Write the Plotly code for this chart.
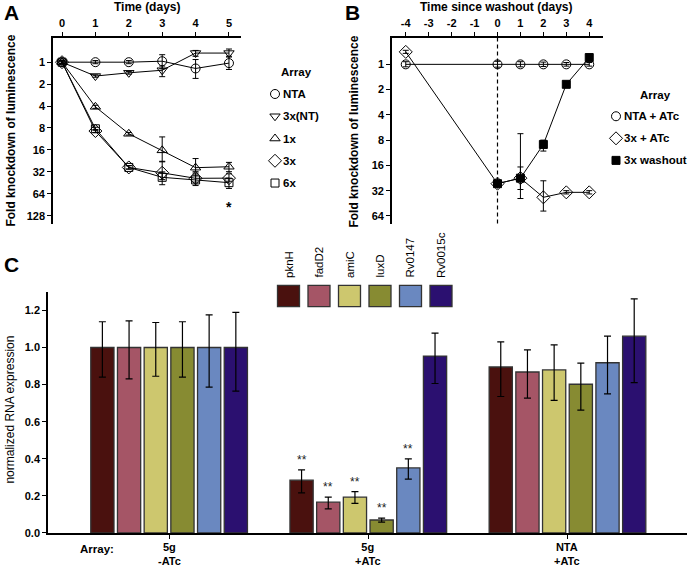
import math
import plotly.graph_objects as go

W, H = 688, 567
def px(x): return x / W
def py(y): return 1 - y / H

FONT = "Arial, 'Liberation Sans', sans-serif"

# ---------------- Panel A data ----------------
days_a = [0, 1, 2, 3, 4, 5]
nta_a = [1.0, 1.0, 1.0, 0.97, 1.22, 1.03]
nta_a_ep = [0.04, 0.05, 0.05, 0.26, 0.45, 0.23]
nta_a_em = [0.04, 0.05, 0.05, 0.18, 0.30, 0.18]
nt3_a = [1.0, 1.55, 1.40, 1.29, 0.75, 0.75]
nt3_a_ep = [0.04, 0.06, 0.06, 0.29, 0.08, 0.08]
nt3_a_em = [0.04, 0.06, 0.06, 0.16, 0.06, 0.09]
x1_a = [1.0, 4.1, 9.6, 16.2, 28.0, 27.2]
x1_a_ep = [0.04, 0.2, 0.4, 7.1, 3.8, 4.6]
x1_a_em = [0.04, 0.2, 0.4, 5.6, 7.0, 3.5]
x3_a = [1.0, 8.8, 27.8, 32.9, 39.2, 39.0]
x3_a_ep = [0.04, 0.4, 1.5, 8.0, 5.0, 4.0]
x3_a_em = [0.04, 0.4, 1.5, 10.0, 6.0, 5.0]
x6_a = [1.0, 8.2, 27.8, 38.0, 41.3, 45.0]
x6_a_ep = [0.04, 0.4, 1.5, 10.0, 8.0, 9.0]
x6_a_em = [0.04, 0.4, 1.5, 6.0, 6.0, 6.0]
ticks_a = [1, 2, 4, 8, 16, 32, 64, 128]
names_a = ["NTA", "3x(NT)", "1x", "3x", "6x"]

# ---------------- Panel B data ----------------
days_b = [-4, 0, 1, 2, 3, 4]
nta_b = [1.0, 1.0, 1.0, 1.0, 1.0, 1.0]
nta_b_e = [0.07, 0.08, 0.07, 0.06, 0.05, 0.05]
x3atc_b = [0.71, 26.4, 22.7, 38.4, 33.5, 33.5]
x3atc_b_ep = [0.03, 1.0, 17.0, 17.6, 1.5, 1.5]
x3atc_b_em = [0.03, 1.0, 6.0, 14.0, 1.5, 1.5]
days_w = [0, 1, 2, 3, 4]
wash_b = [26.4, 22.7, 9.0, 1.73, 0.83]
wash_b_ep = [1.0, 8.3, 1.8, 0.05, 0.03]
wash_b_em = [1.0, 16.0, 1.0, 0.05, 0.03]
ticks_b = [1, 2, 4, 8, 16, 32, 64]
xticks_b = [-4, -3, -2, -1, 0, 1, 2, 3, 4]
names_b = ["NTA + ATc", "3x + ATc", "3x washout"]

# ---------------- Panel C data ----------------
genes = ["pknH", "fadD2", "amiC", "luxD", "Rv0147", "Rv0015c"]
gene_colors = ["#4A110E", "#A55566", "#CDC76E", "#878B32", "#6A88C0", "#2B1070"]
groups = ["5g\n-ATc", "5g\n+ATc", "NTA\n+ATc"]
expr = {
    "pknH": [1.0, 0.285, 0.895],
    "fadD2": [1.0, 0.166, 0.868],
    "amiC": [1.0, 0.193, 0.879],
    "luxD": [1.0, 0.070, 0.802],
    "Rv0147": [1.0, 0.351, 0.918],
    "Rv0015c": [1.0, 0.954, 1.061],
}
expr_ep = {
    "pknH": [0.139, 0.055, 0.135],
    "fadD2": [0.144, 0.027, 0.119],
    "amiC": [0.135, 0.030, 0.135],
    "luxD": [0.139, 0.010, 0.114],
    "Rv0147": [0.176, 0.049, 0.143],
    "Rv0015c": [0.190, 0.124, 0.201],
}
expr_em = {
    "pknH": [0.160, 0.069, 0.159],
    "fadD2": [0.169, 0.036, 0.141],
    "amiC": [0.155, 0.033, 0.164],
    "luxD": [0.160, 0.011, 0.139],
    "Rv0147": [0.214, 0.061, 0.168],
    "Rv0015c": [0.235, 0.148, 0.250],
}
sig = {
    "pknH": ["", "**", ""],
    "fadD2": ["", "**", ""],
    "amiC": ["", "**", ""],
    "luxD": ["", "**", ""],
    "Rv0147": ["", "**", ""],
    "Rv0015c": ["", "", ""],
}

fig = go.Figure()

def add_series(x, y, ep, em, sym, xa, ya, size=9):
    fig.add_trace(go.Scatter(
        x=x, y=y, mode="lines+markers", xaxis=xa, yaxis=ya,
        line=dict(color="black", width=1),
        marker=dict(symbol=sym, size=size, color="black", line=dict(width=1, color="black")),
        error_y=dict(type="data", symmetric=False, array=ep, arrayminus=em,
                     color="black", thickness=1, width=3),
        showlegend=False, hoverinfo="skip"))

# Panel A
syms_a = ["circle-open", "triangle-down-open", "triangle-up-open", "diamond-open", "square-open"]
sizes_a = [9, 9, 9, 10, 8]
add_series(days_a, nta_a, nta_a_ep, nta_a_em, syms_a[0], "x", "y", sizes_a[0])
add_series(days_a, nt3_a, nt3_a_ep, nt3_a_em, syms_a[1], "x", "y", sizes_a[1])
add_series(days_a, x1_a, x1_a_ep, x1_a_em, syms_a[2], "x", "y", sizes_a[2])
add_series(days_a, x3_a, x3_a_ep, x3_a_em, syms_a[3], "x", "y", sizes_a[3])
add_series(days_a, x6_a, x6_a_ep, x6_a_em, syms_a[4], "x", "y", sizes_a[4])

# Panel B
syms_b = ["circle-open", "diamond-open", "square"]
sizes_b = [9, 10, 8]
add_series(days_b, nta_b, nta_b_e, nta_b_e, syms_b[0], "x2", "y2", sizes_b[0])
add_series(days_b, x3atc_b, x3atc_b_ep, x3atc_b_em, syms_b[1], "x2", "y2", sizes_b[1])
add_series(days_w, wash_b, wash_b_ep, wash_b_em, syms_b[2], "x2", "y2", sizes_b[2])

# Panel C bars
for g, c in zip(genes, gene_colors):
    fig.add_trace(go.Bar(
        x=list(range(len(groups))), y=expr[g], name=g, xaxis="x3", yaxis="y3", showlegend=False,
        marker=dict(color=c, line=dict(color="#333333", width=1.3)),
        error_y=dict(type="data", symmetric=False, array=expr_ep[g], arrayminus=expr_em[g],
                     color="black", thickness=1.2, width=3.5),
        hoverinfo="skip"))

bargap, bargroupgap = 0.196, 0.13
slot = (1 - bargap) / len(genes)
annotations = []
for i, g in enumerate(genes):
    off = (i - (len(genes) - 1) / 2) * slot
    for j in range(len(groups)):
        if sig[g][j]:
            annotations.append(dict(
                x=j + off, y=expr[g][j] + expr_ep[g][j], xref="x3", yref="y3",
                text=sig[g][j], showarrow=False, yanchor="bottom", yshift=1,
                font=dict(family=FONT, size=12, color="#222")))

# group labels below the bar axis
for j, gl in enumerate(groups):
    annotations.append(dict(x=j, y=py(545), xref="x3", yref="paper",
                            text="<b>" + gl.replace("\n", "<br>") + "</b>",
                            showarrow=False, xanchor="center", yanchor="top",
                            font=dict(family=FONT, size=11, color="black")))

# Gene legend (squares + rotated labels)
shapes = []
for i, (g, c) in enumerate(zip(genes, gene_colors)):
    cx = 288.5 + 30.5 * i
    shapes.append(dict(type="rect", xref="paper", yref="paper",
                       x0=px(cx - 11), x1=px(cx + 11), y0=py(310), y1=py(288.5),
                       fillcolor=c, line=dict(color="#333333", width=1.3)))
    annotations.append(dict(x=px(cx), y=py(283), xref="paper", yref="paper",
                            text=g, textangle=-90, showarrow=False,
                            xanchor="center", yanchor="bottom",
                            font=dict(family=FONT, size=11.5, color="black")))

# dashed line at washout
shapes.append(dict(type="line", xref="x2", yref="y2 domain", x0=0, x1=0, y0=0, y1=1,
                   line=dict(color="black", width=1.2, dash="4px,3px")))

# Custom legends for A and B: markers on a hidden full-figure axis + text
def legend_block(title, names, syms, sizes, sym_x, text_x, title_x, title_y, y0, pitch):
    for k, (n, s, sz) in enumerate(zip(names, syms, sizes)):
        yy = y0 + pitch * k
        fig.add_trace(go.Scatter(x=[sym_x], y=[yy], xaxis="x4", yaxis="y4", mode="markers",
                                 marker=dict(symbol=s, size=sz, color="black",
                                             line=dict(width=1, color="black")),
                                 showlegend=False, hoverinfo="skip"))
        annotations.append(dict(x=px(text_x), y=py(yy), xref="paper", yref="paper",
                                text="<b>" + n + "</b>", showarrow=False,
                                xanchor="left", yanchor="middle",
                                font=dict(family=FONT, size=11.5, color="black")))
    annotations.append(dict(x=px(title_x), y=py(title_y), xref="paper", yref="paper",
                            text="<b>" + title + "</b>", showarrow=False,
                            xanchor="center", yanchor="middle",
                            font=dict(family=FONT, size=11.5, color="black")))

legend_block("Array", names_a, syms_a, sizes_a, 275, 281, 296, 73, 95, 22.5)
legend_block("Array", names_b, syms_b, sizes_b, 616, 622, 655, 96, 117.5, 22.3)

# Text annotations
def txt(x, y, t, size=11, bold=True, angle=0, xa="center", ya="middle"):
    annotations.append(dict(x=px(x), y=py(y), xref="paper", yref="paper",
                            text=("<b>" + t + "</b>") if bold else t,
                            showarrow=False, textangle=angle, xanchor=xa, yanchor=ya,
                            font=dict(family=FONT, size=size, color="black")))

txt(11, 13, "A", size=21)
txt(352, 13, "B", size=21)
txt(11, 267, "C", size=21)
txt(147, 7, "Time (days)", size=12)
txt(497, 7, "Time since washout (days)", size=12)
txt(11, 132, "Fold knockdown of luminescence", size=12, angle=-90)
txt(354, 133, "Fold knockdown of luminescence", size=12, angle=-90)
txt(10, 414, "normalized RNA expression", size=12, bold=False, angle=-90)
txt(97, 555, "Array:", size=11.5)
annotations.append(dict(x=5, y=math.log10(98), xref="x", yref="y", text="<b>*</b>",
                        showarrow=False, font=dict(family=FONT, size=14, color="black")))

tickfont = dict(family=FONT, size=11, color="black", weight=700)
axis_common = dict(showline=True, linecolor="black", linewidth=1.6, ticks="outside",
                   ticklen=4, tickwidth=1.2, tickcolor="black", showgrid=False,
                   zeroline=False, tickfont=tickfont)

fig.update_layout(
    width=W, height=H, margin=dict(l=0, r=0, t=0, b=0, pad=0),
    paper_bgcolor="white", plot_bgcolor="rgba(0,0,0,0)",
    font=dict(family=FONT, color="black"),
    barmode="group", bargap=bargap, bargroupgap=bargroupgap,
    xaxis=dict(domain=[px(53), px(241)], range=[-0.27, 5.36], side="top", anchor="y",
               tickvals=days_a, ticktext=["<b>%d</b>" % d for d in days_a], **axis_common),
    yaxis=dict(domain=[py(226), py(38)], type="log",
               range=[math.log10(164), math.log10(0.46)], anchor="x",
               tickvals=ticks_a, ticktext=["<b>%d</b>" % t for t in ticks_a], **axis_common),
    xaxis2=dict(domain=[px(392), px(603)], range=[-4.6, 4.6], side="top", anchor="y2",
                tickvals=xticks_b, ticktext=["<b>%d</b>" % t for t in xticks_b], **axis_common),
    yaxis2=dict(domain=[py(226), py(38)], type="log",
                range=[math.log10(79), math.log10(0.48)], anchor="x2",
                tickvals=ticks_b, ticktext=["<b>%d</b>" % t for t in ticks_b], **axis_common),
    xaxis3=dict(domain=[px(48), px(687)], range=[-0.608, 2.60], anchor="y3",
                tickvals=list(range(len(groups))), showticklabels=False, **axis_common),
    yaxis3=dict(domain=[py(538.7), py(295)], range=[0, 1.3], anchor="x3",
                tickvals=[0, 0.2, 0.4, 0.6, 0.8, 1.0, 1.2],
                ticktext=["<b>%.1f</b>" % v for v in [0, 0.2, 0.4, 0.6, 0.8, 1.0, 1.2]],
                **axis_common),
    xaxis4=dict(domain=[0, 1], range=[0, W], visible=False, fixedrange=True, anchor="y4"),
    yaxis4=dict(domain=[0, 1], range=[H, 0], visible=False, fixedrange=True, anchor="x4"),
    shapes=shapes, annotations=annotations,
)

fig.write_html("out.html", config={"displayModeBar": False},
               post_script="document.body.style.margin='0';document.body.style.padding='0';")
